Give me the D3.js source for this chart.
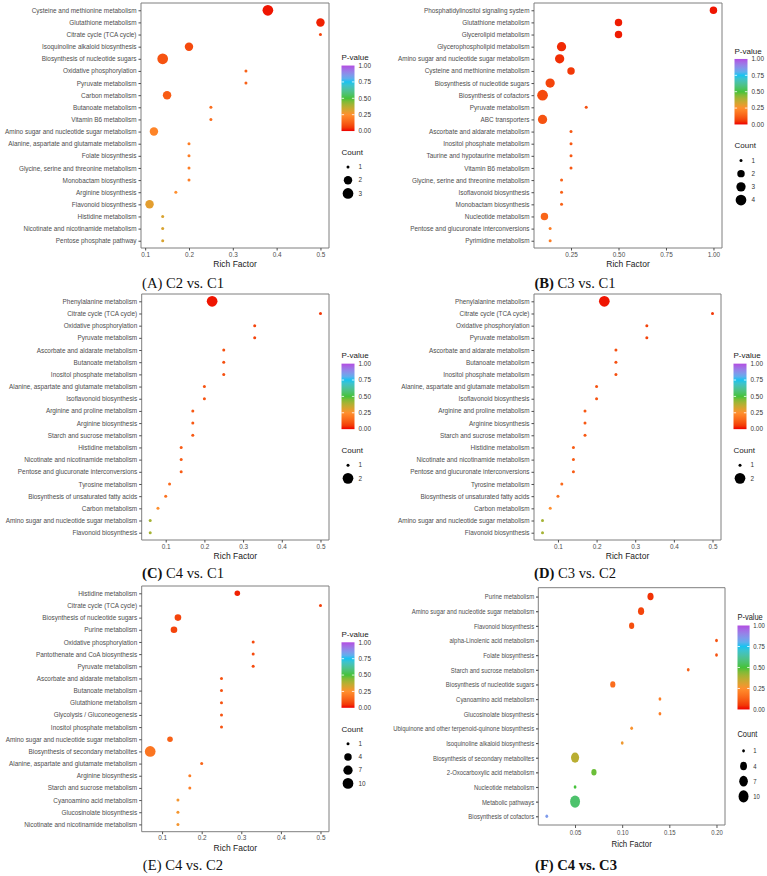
<!DOCTYPE html>
<html>
<head>
<meta charset="utf-8">
<script src="https://cdn.jsdelivr.net/npm/d3@7"></script>
<style>
body { margin: 0; background: #fff; }
svg text { font-family: "Liberation Sans", Arial, sans-serif; }
</style>
</head>
<body>
<script>
// (A) C2 vs. C1
var aPathways = ["Cysteine and methionine metabolism", "Glutathione metabolism", "Citrate cycle (TCA cycle)", "Isoquinoline alkaloid biosynthesis", "Biosynthesis of nucleotide sugars", "Oxidative phosphorylation", "Pyruvate metabolism", "Carbon metabolism", "Butanoate metabolism", "Vitamin B6 metabolism", "Amino sugar and nucleotide sugar metabolism", "Alanine, aspartate and glutamate metabolism", "Folate biosynthesis", "Glycine, serine and threonine metabolism", "Monobactam biosynthesis", "Arginine biosynthesis", "Flavonoid biosynthesis", "Histidine metabolism", "Nicotinate and nicotinamide metabolism", "Pentose phosphate pathway"];
var aRich = [0.38, 0.5, 0.5, 0.2, 0.14, 0.33, 0.33, 0.15, 0.25, 0.25, 0.12, 0.2, 0.2, 0.2, 0.2, 0.17, 0.11, 0.14, 0.14, 0.14];
var aCount = [3, 2, 1, 2, 3, 1, 1, 2, 1, 1, 2, 1, 1, 1, 1, 1, 2, 1, 1, 1];
var aP = [0.01, 0.02, 0.07, 0.08, 0.1, 0.13, 0.13, 0.12, 0.16, 0.16, 0.22, 0.2, 0.2, 0.2, 0.2, 0.25, 0.3, 0.32, 0.32, 0.32];

// (B) C3 vs. C1
var bPathways = ["Phosphatidylinositol signaling system", "Glutathione metabolism", "Glycerolipid metabolism", "Glycerophospholipid metabolism", "Amino sugar and nucleotide sugar metabolism", "Cysteine and methionine metabolism", "Biosynthesis of nucleotide sugars", "Biosynthesis of cofactors", "Pyruvate metabolism", "ABC transporters", "Ascorbate and aldarate metabolism", "Inositol phosphate metabolism", "Taurine and hypotaurine metabolism", "Vitamin B6 metabolism", "Glycine, serine and threonine metabolism", "Isoflavonoid biosynthesis", "Monobactam biosynthesis", "Nucleotide metabolism", "Pentose and glucuronate interconversions", "Pyrimidine metabolism"];
var bRich = [1.0, 0.5, 0.5, 0.2, 0.19, 0.25, 0.14, 0.1, 0.33, 0.1, 0.25, 0.25, 0.25, 0.25, 0.2, 0.2, 0.2, 0.11, 0.14, 0.14];
var bCount = [2, 2, 2, 3, 3, 2, 3, 4, 1, 3, 1, 1, 1, 1, 1, 1, 1, 2, 1, 1];
var bP = [0.01, 0.015, 0.015, 0.03, 0.035, 0.05, 0.07, 0.08, 0.09, 0.1, 0.11, 0.11, 0.11, 0.11, 0.13, 0.13, 0.13, 0.14, 0.2, 0.2];

// (C) C4 vs. C1
var cPathways = ["Phenylalanine metabolism", "Citrate cycle (TCA cycle)", "Oxidative phosphorylation", "Pyruvate metabolism", "Ascorbate and aldarate metabolism", "Butanoate metabolism", "Inositol phosphate metabolism", "Alanine, aspartate and glutamate metabolism", "Isoflavonoid biosynthesis", "Arginine and proline metabolism", "Arginine biosynthesis", "Starch and sucrose metabolism", "Histidine metabolism", "Nicotinate and nicotinamide metabolism", "Pentose and glucuronate interconversions", "Tyrosine metabolism", "Biosynthesis of unsaturated fatty acids", "Carbon metabolism", "Amino sugar and nucleotide sugar metabolism", "Flavonoid biosynthesis"];
var cRich = [0.22, 0.5, 0.33, 0.33, 0.25, 0.25, 0.25, 0.2, 0.2, 0.17, 0.17, 0.17, 0.14, 0.14, 0.14, 0.11, 0.1, 0.08, 0.06, 0.06];
var cCount = [2, 1, 1, 1, 1, 1, 1, 1, 1, 1, 1, 1, 1, 1, 1, 1, 1, 1, 1, 1];
var cP = [0.01, 0.05, 0.07, 0.07, 0.09, 0.09, 0.09, 0.1, 0.1, 0.11, 0.11, 0.11, 0.12, 0.12, 0.12, 0.15, 0.17, 0.25, 0.4, 0.4];

// (D) C3 vs. C2
var dPathways = ["Phenylalanine metabolism", "Citrate cycle (TCA cycle)", "Oxidative phosphorylation", "Pyruvate metabolism", "Ascorbate and aldarate metabolism", "Butanoate metabolism", "Inositol phosphate metabolism", "Alanine, aspartate and glutamate metabolism", "Isoflavonoid biosynthesis", "Arginine and proline metabolism", "Arginine biosynthesis", "Starch and sucrose metabolism", "Histidine metabolism", "Nicotinate and nicotinamide metabolism", "Pentose and glucuronate interconversions", "Tyrosine metabolism", "Biosynthesis of unsaturated fatty acids", "Carbon metabolism", "Amino sugar and nucleotide sugar metabolism", "Flavonoid biosynthesis"];
var dRich = [0.22, 0.5, 0.33, 0.33, 0.25, 0.25, 0.25, 0.2, 0.2, 0.17, 0.17, 0.17, 0.14, 0.14, 0.14, 0.11, 0.1, 0.08, 0.06, 0.06];
var dCount = [2, 1, 1, 1, 1, 1, 1, 1, 1, 1, 1, 1, 1, 1, 1, 1, 1, 1, 1, 1];
var dP = [0.01, 0.05, 0.07, 0.07, 0.09, 0.09, 0.09, 0.1, 0.1, 0.11, 0.11, 0.11, 0.12, 0.12, 0.12, 0.15, 0.17, 0.25, 0.4, 0.4];

// (E) C4 vs. C2
var ePathways = ["Histidine metabolism", "Citrate cycle (TCA cycle)", "Biosynthesis of nucleotide sugars", "Purine metabolism", "Oxidative phosphorylation", "Pantothenate and CoA biosynthesis", "Pyruvate metabolism", "Ascorbate and aldarate metabolism", "Butanoate metabolism", "Glutathione metabolism", "Glycolysis / Gluconeogenesis", "Inositol phosphate metabolism", "Amino sugar and nucleotide sugar metabolism", "Biosynthesis of secondary metabolites", "Alanine, aspartate and glutamate metabolism", "Arginine biosynthesis", "Starch and sucrose metabolism", "Cyanoamino acid metabolism", "Glucosinolate biosynthesis", "Nicotinate and nicotinamide metabolism"];
var eRich = [0.29, 0.5, 0.14, 0.13, 0.33, 0.33, 0.33, 0.25, 0.25, 0.25, 0.25, 0.25, 0.12, 0.07, 0.2, 0.17, 0.17, 0.14, 0.14, 0.14];
var eCount = [2, 1, 3, 3, 1, 1, 1, 1, 1, 1, 1, 1, 2, 10, 1, 1, 1, 1, 1, 1];
var eP = [0.02, 0.06, 0.07, 0.07, 0.08, 0.08, 0.08, 0.1, 0.1, 0.1, 0.1, 0.1, 0.13, 0.18, 0.14, 0.2, 0.2, 0.27, 0.27, 0.27];

// (F) C4 vs. C3
var fPathways = ["Purine metabolism", "Amino sugar and nucleotide sugar metabolism", "Flavonoid biosynthesis", "alpha-Linolenic acid metabolism", "Folate biosynthesis", "Starch and sucrose metabolism", "Biosynthesis of nucleotide sugars", "Cyanoamino acid metabolism", "Glucosinolate biosynthesis", "Ubiquinone and other terpenoid-quinone biosynthesis", "Isoquinoline alkaloid biosynthesis", "Biosynthesis of secondary metabolites", "2-Oxocarboxylic acid metabolism", "Nucleotide metabolism", "Metabolic pathways", "Biosynthesis of cofactors"];
var fRich = [0.13, 0.12, 0.11, 0.2, 0.2, 0.17, 0.09, 0.14, 0.14, 0.11, 0.1, 0.05, 0.07, 0.05, 0.05, 0.02];
var fCount = [3, 3, 2, 1, 1, 1, 2, 1, 1, 1, 1, 6, 2, 1, 10, 1];
var fP = [0.04, 0.07, 0.09, 0.1, 0.1, 0.13, 0.16, 0.2, 0.2, 0.26, 0.28, 0.37, 0.47, 0.5, 0.56, 0.85];

// axis ticks and legend breaks
var ticksTenths = [0.1, 0.2, 0.3, 0.4, 0.5];
var ticksB = [0.25, 0.5, 0.75, 1.0];
var ticksF = [0.05, 0.1, 0.15, 0.2];
var pBreaks = [0, 0.25, 0.5, 0.75, 1];
var countBreaksA = [1, 2, 3];
var countBreaksB = [1, 2, 3, 4];
var countBreaksCD = [1, 2];
var countBreaksEF = [1, 4, 7, 10];

var width = 767;
var height = 876;
var svg = d3.select("body").append("svg")
    .attr("width", width)
    .attr("height", height);

var color = d3.scaleLinear()
    .domain([0, 0.25, 0.5, 0.75, 1])
    .range(["#ee0000", "#ff8f2e", "#45c23a", "#17c3f0", "#b24ce2"])
    .interpolate(d3.interpolateLab);

var grad = svg.append("defs").append("linearGradient")
    .attr("id", "pgrad")
    .attr("x1", 0).attr("y1", 1).attr("x2", 0).attr("y2", 0);
d3.range(0, 1.0001, 0.05).forEach(function(t) {
    grad.append("stop").attr("offset", t).attr("stop-color", color(t));
});

var panels = [
  { pathways: aPathways, rich: aRich, count: aCount, p: aP, ticks: ticksTenths, fmt: ".1f", breaks: countBreaksA,
    left: 141, top: 3, right: 329, bottom: 248, cap: [["(A) C2 vs. C1", false]], capX: 183, capY: 282.7 },
  { pathways: bPathways, rich: bRich, count: bCount, p: bP, ticks: ticksB, fmt: ".2f", breaks: countBreaksB,
    left: 534, top: 3, right: 722, bottom: 248, cap: [["(B)", true], [" C3 vs. C1", false]], capX: 575, capY: 282.7 },
  { pathways: cPathways, rich: cRich, count: cCount, p: cP, ticks: ticksTenths, fmt: ".1f", breaks: countBreaksCD,
    left: 141.7, top: 294, right: 329, bottom: 540, cap: [["(C)", true], [" C4 vs. C1", false]], capX: 183, capY: 573 },
  { pathways: dPathways, rich: dRich, count: dCount, p: dP, ticks: ticksTenths, fmt: ".1f", breaks: countBreaksCD,
    left: 534, top: 294, right: 721, bottom: 540, cap: [["(D)", true], [" C3 vs. C2", false]], capX: 575, capY: 573 },
  { pathways: ePathways, rich: eRich, count: eCount, p: eP, ticks: ticksTenths, fmt: ".1f", breaks: countBreaksEF,
    left: 141.7, top: 586, right: 329, bottom: 831.7, cap: [["(E) C4 vs. C2", false]], capX: 183, capY: 865 },
  { pathways: fPathways, rich: fRich, count: fCount, p: fP, ticks: ticksF, fmt: ".2f", breaks: countBreaksEF,
    left: 538.3, top: 587.7, right: 725, bottom: 825, sx: 0.93, sy: 1.15, barH: 73,
    cap: [["(F) C4 vs. C3", true]], capX: 576, capY: 865 }
];

panels.forEach(drawPanel);

function drawPanel(pn) {
    var sx = pn.sx || 1, sy = pn.sy || 1;
    var w = (pn.right - pn.left) / sx;
    var h = (pn.bottom - pn.top) / sy;
    var g = svg.append("g")
        .attr("transform", "translate(" + pn.left + "," + pn.top + ") scale(" + sx + "," + sy + ")");

    var ext = d3.extent(pn.rich);
    var pad = (ext[1] - ext[0]) * 0.05;
    var x = d3.scaleLinear().domain([ext[0] - pad, ext[1] + pad]).range([0, w]);
    var y = d3.scalePoint().domain(pn.pathways).range([0, h]).padding(0.6);
    var cmax = d3.max(pn.count);
    var size = d3.scaleSqrt().domain([0, cmax - 1]).range([3, 10.7]);

    g.append("rect")
        .attr("width", w).attr("height", h)
        .attr("fill", "none").attr("stroke", "#7f7f7f").attr("stroke-width", 1)
        .attr("vector-effect", "non-scaling-stroke");

    var xAxis = d3.axisBottom(x).tickValues(pn.ticks).tickFormat(d3.format(pn.fmt))
        .tickSize(2.5).tickPadding(1.5);
    var gx = g.append("g").attr("transform", "translate(0," + h + ")").call(xAxis)
        .attr("font-size", 6.4).attr("font-family", null);
    gx.select(".domain").remove();
    gx.selectAll("line").attr("stroke", "#4d4d4d");
    gx.selectAll("text").attr("fill", "#4d4d4d");

    var yAxis = d3.axisLeft(y).tickSize(2.5).tickPadding(2);
    var gy = g.append("g").call(yAxis)
        .attr("font-size", 6.4).attr("font-family", null);
    gy.select(".domain").remove();
    gy.selectAll("line").attr("stroke", "#4d4d4d");
    gy.selectAll("text").attr("fill", "#4d4d4d");

    g.selectAll(".dot")
        .data(pn.pathways)
        .enter()
        .append("circle")
        .attr("class", "dot")
        .attr("cx", function(d, i) { return x(pn.rich[i]); })
        .attr("cy", function(d) { return y(d); })
        .attr("r", function(d, i) { return size(pn.count[i] - 1) / 2; })
        .attr("fill", function(d, i) { return color(pn.p[i]); });

    g.append("text")
        .attr("x", w / 2).attr("y", h + 16).attr("dy", "0.35em")
        .attr("text-anchor", "middle").attr("font-size", 8.5).attr("fill", "#1a1a1a")
        .text("Rich Factor");

    // -- legend --
    var barH = pn.barH || 65.5;
    var n = pn.breaks.length;
    var total = 14 + barH + 36 + (n - 1) * 13.2 + 6;
    var lx = w + 12.5 / sx;
    var top = h / 2 - total / 2;
    var lg = g.append("g").attr("transform", "translate(" + lx + "," + top + ")");

    lg.append("text").attr("x", 0).attr("y", 6).attr("dy", "0.35em")
        .attr("font-size", 8).attr("fill", "#1a1a1a").text("P-value");

    var py = d3.scaleLinear().domain([0, 1]).range([14 + barH, 14]);
    lg.append("rect").attr("x", 0).attr("y", 14).attr("width", 13).attr("height", barH)
        .attr("fill", "url(#pgrad)");
    pBreaks.slice(1, 4).forEach(function(b) {
        lg.append("line").attr("x1", 0).attr("x2", 2.6).attr("y1", py(b)).attr("y2", py(b))
            .attr("stroke", "#fff").attr("stroke-width", 0.8);
        lg.append("line").attr("x1", 10.4).attr("x2", 13).attr("y1", py(b)).attr("y2", py(b))
            .attr("stroke", "#fff").attr("stroke-width", 0.8);
    });
    lg.selectAll(".plab")
        .data(pBreaks)
        .enter()
        .append("text")
        .attr("class", "plab")
        .attr("x", 17).attr("y", function(d) { return py(d); }).attr("dy", "0.35em")
        .attr("font-size", 6.4).attr("fill", "#333")
        .text(function(d) { return d3.format(".2f")(d); });

    var cTop = 14 + barH;
    lg.append("text").attr("x", 0).attr("y", cTop + 21).attr("dy", "0.35em")
        .attr("font-size", 8).attr("fill", "#1a1a1a").text("Count");
    lg.selectAll(".ckey")
        .data(pn.breaks)
        .enter()
        .append("circle")
        .attr("class", "ckey")
        .attr("cx", 6.5).attr("cy", function(d, i) { return cTop + 36 + i * 13.2; })
        .attr("r", function(d) { return size(d - 1) / 2; })
        .attr("fill", "#000");
    lg.selectAll(".clab")
        .data(pn.breaks)
        .enter()
        .append("text")
        .attr("class", "clab")
        .attr("x", 17).attr("y", function(d, i) { return cTop + 36 + i * 13.2; }).attr("dy", "0.35em")
        .attr("font-size", 6.4).attr("fill", "#333")
        .text(function(d) { return d; });

    // -- caption --
    var cap = svg.append("text")
        .attr("x", pn.capX).attr("y", pn.capY).attr("dy", "0.35em")
        .attr("text-anchor", "middle")
        .attr("font-size", 14.6)
        .style("font-family", "'Liberation Serif', 'Times New Roman', serif")
        .attr("fill", "#111");
    pn.cap.forEach(function(part) {
        cap.append("tspan").attr("font-weight", part[1] ? "bold" : "normal").text(part[0]);
    });
}
</script>
</body>
</html>
